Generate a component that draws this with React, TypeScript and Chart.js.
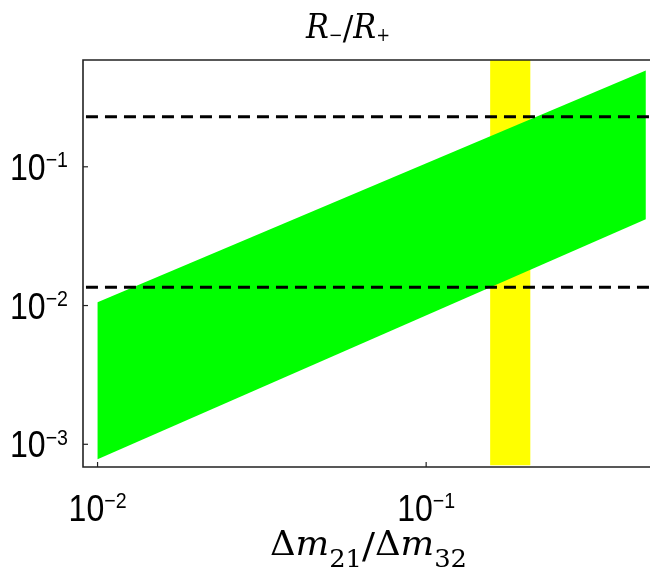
import React, { useEffect, useRef } from "react";
import { Chart, registerables } from "chart.js";

Chart.register(...registerables);

// axis ranges (log scales)
const xRange = [0.00903, 0.48];
const yRange = [0.000686, 0.5884];

// green band: lower and upper edges at the two x ends
const bandX = [0.01, 0.466];
const bandLower = [0.00078, 0.0418];
const bandUpper = [0.01057, 0.495];

// yellow vertical strip
const stripX = [0.1566, 0.2075];
const stripY = [0.000706, 0.5884];

// dashed horizontal reference levels
const dashX = [0.00922, 0.48];
const dashLevels = [0.2294, 0.01355];

// tick values and labels
const xTickValues = [0.01, 0.1];
const xTickExponents = ["\u22122", "\u22121"];
const yTickValues = [0.001, 0.01, 0.1];
const yTickExponents = ["\u22123", "\u22122", "\u22121"];

const titleText = ["R", "\u2212", "/", "R", "+"];
const xLabelText = ["\u0394", "m", "21", "/", "\u0394", "m", "32"];

type Seg = { t: string; f: string; dy: number };

function drawRich(
  ctx: CanvasRenderingContext2D,
  segs: Seg[],
  anchorX: number,
  align: "left" | "center" | "right",
  baseline: number,
  targetWidth: number | null,
  color = "#000"
) {
  ctx.save();
  ctx.textBaseline = "alphabetic";
  ctx.textAlign = "left";
  ctx.fillStyle = color;
  let total = 0;
  const widths: number[] = [];
  for (const s of segs) {
    ctx.font = s.f;
    const w = ctx.measureText(s.t).width;
    widths.push(w);
    total += w;
  }
  const sx = targetWidth ? targetWidth / total : 1;
  const scaled = total * sx;
  let start = anchorX;
  if (align === "center") start = anchorX - scaled / 2;
  else if (align === "right") start = anchorX - scaled;
  ctx.translate(start, 0);
  ctx.scale(sx, 1);
  let x = 0;
  segs.forEach((s, i) => {
    ctx.font = s.f;
    ctx.fillText(s.t, x, baseline + s.dy);
    x += widths[i];
  });
  ctx.restore();
}

const SANS = "'Liberation Sans', Arial, sans-serif";
const SERIF = "'DejaVu Serif', 'Liberation Serif', serif";

const decorPlugin = {
  id: "decor",
  afterDraw(chart: any) {
    const ctx: CanvasRenderingContext2D = chart.ctx;
    const { left, right, top, bottom } = chart.chartArea;
    const xs = chart.scales.x;
    const ys = chart.scales.y;
    ctx.save();
    ctx.strokeStyle = "#222";
    ctx.lineWidth = 1.6;
    ctx.beginPath();
    ctx.moveTo(right + 2, top);
    ctx.lineTo(left, top);
    ctx.lineTo(left, bottom);
    ctx.lineTo(right + 2, bottom);
    ctx.stroke();

    ctx.lineWidth = 1.2;
    // y ticks
    yTickValues.forEach((v) => {
      const py = ys.getPixelForValue(v);
      ctx.beginPath();
      ctx.moveTo(left, py);
      ctx.lineTo(left + 5, py);
      ctx.stroke();
    });
    // x ticks
    xTickValues.forEach((v) => {
      const px = xs.getPixelForValue(v);
      ctx.beginPath();
      ctx.moveTo(px, bottom);
      ctx.lineTo(px, bottom - 5);
      ctx.stroke();
    });
    ctx.restore();

    // y tick labels
    yTickValues.forEach((v, i) => {
      const py = ys.getPixelForValue(v);
      drawRich(
        ctx,
        [
          { t: "10", f: `36px ${SANS}`, dy: 0 },
          { t: yTickExponents[i], f: `22px ${SANS}`, dy: -12.7 },
        ],
        68,
        "right",
        py + 13,
        58
      );
    });
    // x tick labels
    xTickValues.forEach((v, i) => {
      const px = xs.getPixelForValue(v);
      drawRich(
        ctx,
        [
          { t: "10", f: `36px ${SANS}`, dy: 0 },
          { t: xTickExponents[i], f: `22px ${SANS}`, dy: -12.7 },
        ],
        px,
        "center",
        521,
        58
      );
    });

    // title
    drawRich(
      ctx,
      [
        { t: titleText[0], f: `italic 33px ${SERIF}`, dy: 0 },
        { t: titleText[1], f: `18px ${SERIF}`, dy: 3 },
        { t: titleText[2], f: `34px ${SERIF}`, dy: 2 },
        { t: titleText[3], f: `italic 33px ${SERIF}`, dy: 0 },
        { t: titleText[4], f: `18px ${SERIF}`, dy: 3 },
      ],
      348,
      "center",
      38,
      84
    );

    // x label
    drawRich(
      ctx,
      [
        { t: xLabelText[0], f: `33px ${SERIF}`, dy: 0 },
        { t: xLabelText[1], f: `italic 33px ${SERIF}`, dy: 0 },
        { t: xLabelText[2], f: `24px ${SERIF}`, dy: 12 },
        { t: xLabelText[3], f: `36px ${SERIF}`, dy: 3 },
        { t: xLabelText[4], f: `33px ${SERIF}`, dy: 0 },
        { t: xLabelText[5], f: `italic 33px ${SERIF}`, dy: 0 },
        { t: xLabelText[6], f: `24px ${SERIF}`, dy: 12 },
      ],
      368.5,
      "center",
      555,
      197
    );
  },
};

export default function App() {
  const ref = useRef<HTMLCanvasElement | null>(null);
  useEffect(() => {
    document.body.style.margin = "0";
    const canvas = ref.current;
    if (!canvas) return;
    const common = {
      showLine: true,
      pointRadius: 0,
      pointHoverRadius: 0,
    };
    const chart = new Chart(canvas, {
      type: "scatter",
      data: {
        datasets: [
          {
            ...common,
            label: "strip",
            data: [
              { x: stripX[0], y: stripY[0] },
              { x: stripX[0], y: stripY[1] },
              { x: stripX[1], y: stripY[1] },
              { x: stripX[1], y: stripY[0] },
            ],
            fill: "shape",
            backgroundColor: "#ffff00",
            borderColor: "rgba(0,0,0,0)",
            borderWidth: 0,
            order: 3,
          },
          {
            ...common,
            label: "band",
            data: [
              { x: bandX[0], y: bandLower[0] },
              { x: bandX[1], y: bandLower[1] },
              { x: bandX[1], y: bandUpper[1] },
              { x: bandX[0], y: bandUpper[0] },
            ],
            fill: "shape",
            backgroundColor: "#00ff00",
            borderColor: "rgba(0,0,0,0)",
            borderWidth: 0,
            order: 2,
          },
          ...dashLevels.map((lv) => ({
            ...common,
            label: "level",
            data: [
              { x: dashX[0], y: lv },
              { x: dashX[1], y: lv },
            ],
            fill: false,
            borderColor: "#000",
            borderWidth: 3,
            borderDash: [12, 7],
            order: 1,
          })),
        ],
      } as any,
      options: {
        responsive: false,
        animation: false,
        events: [],
        layout: { padding: { left: 83, top: 60, right: 0, bottom: 110 } },
        plugins: {
          legend: { display: false },
          tooltip: { enabled: false },
          title: { display: false },
        },
        scales: {
          x: {
            type: "logarithmic",
            display: false,
            min: xRange[0],
            max: xRange[1],
          },
          y: {
            type: "logarithmic",
            display: false,
            min: yRange[0],
            max: yRange[1],
          },
        },
      } as any,
      plugins: [decorPlugin],
    });
    return () => chart.destroy();
  }, []);
  return (
    <div style={{ width: 650, height: 577, background: "#fff" }}>
      <canvas ref={ref} width={650} height={577} style={{ display: "block" }} />
    </div>
  );
}
